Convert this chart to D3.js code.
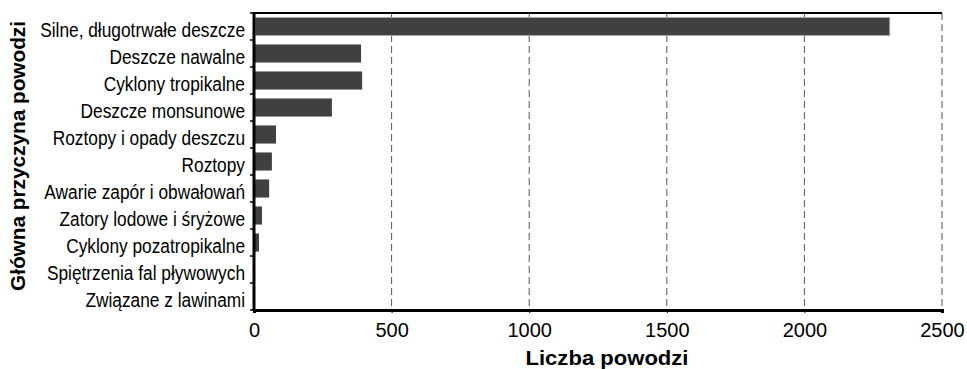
<!DOCTYPE html>
<html><head><meta charset="utf-8">
<script src="https://cdn.jsdelivr.net/npm/d3@7"></script>
<style>body{margin:0;background:#fff}svg{display:block}text{font-family:"Liberation Sans",Arial,sans-serif}</style>
</head><body><svg id="c" width="967" height="369"></svg>
<script>
const categories = ["Silne, długotrwałe deszcze","Deszcze nawalne","Cyklony tropikalne","Deszcze monsunowe","Roztopy i opady deszczu","Roztopy","Awarie zapór i obwałowań","Zatory lodowe i śryżowe","Cyklony pozatropikalne","Spiętrzenia fal pływowych","Związane z lawinami"];
const values = [2310, 389, 393, 283, 80, 65, 55, 29, 18, 2, 1];
const xTicks = [0, 500, 1000, 1500, 2000, 2500];
const xTitle = "Liczba powodzi";
const yTitle = "Główna przyczyna powodzi";

const svg = d3.select("#c");
const m = {l:254, r:942, t:13, b:310};
const x = d3.scaleLinear().domain([0,2500]).range([m.l, m.r]);
const y = d3.scaleBand().domain(categories).range([m.t, m.b]).paddingInner(0.33).paddingOuter(0.165);

// grid
svg.append("g").selectAll("line").data(xTicks.filter(d=>d>0)).join("line")
  .attr("x1",d=>x(d)).attr("x2",d=>x(d)).attr("y1",m.t).attr("y2",m.b)
  .attr("stroke","#555").attr("stroke-width",1).attr("stroke-dasharray","7,4");

// bars
svg.append("g").selectAll("rect").data(values).join("rect")
  .attr("x",x(0)+1).attr("y",(d,i)=>y(categories[i]))
  .attr("width",d=>Math.max(0,x(d)-x(0)-1)).attr("height",y.bandwidth())
  .attr("fill","#404040").attr("stroke",(d,i)=>i===0?"#aaa":"none").attr("stroke-width",1);

// top border
svg.append("line").attr("x1",m.l).attr("x2",m.r).attr("y1",m.t).attr("y2",m.t).attr("stroke","#000").attr("stroke-width",2);

// x axis
const xa = svg.append("g").attr("transform",`translate(0,${m.b})`)
  .call(d3.axisBottom(x).tickValues(xTicks).tickSize(3).tickPadding(10).tickFormat(d3.format("d")));
xa.select(".domain").attr("stroke-width",3);
xa.selectAll("text").attr("font-size",20).attr("fill","#000").attr("font-family","Liberation Sans, Arial, sans-serif");

// y axis
const ya = svg.append("g").attr("transform",`translate(${m.l},0)`)
  .call(d3.axisLeft(y).tickSize(0).tickPadding(9));
ya.select(".domain").remove();
svg.append("line").attr("x1",m.l).attr("x2",m.l).attr("y1",m.t-1).attr("y2",m.b+1).attr("stroke","#000").attr("stroke-width",3);
ya.selectAll("text").attr("font-size",20).attr("fill","#000").attr("dy","0.52em")
  .attr("font-family","Liberation Sans, Arial, sans-serif")
  .each(function(){ const w=this.getComputedTextLength(); d3.select(this).attr("textLength",w*0.865).attr("lengthAdjust","spacingAndGlyphs"); });
// band boundary ticks
const bounds = d3.range(categories.length+1).map(i=>m.t + i*(m.b-m.t)/categories.length);
svg.append("g").selectAll("line").data(bounds).join("line")
  .attr("x1",m.l-4).attr("x2",m.l).attr("y1",d=>d).attr("y2",d=>d).attr("stroke","#000").attr("stroke-width",1.5);

// titles
svg.append("text").attr("x",607).attr("y",365).attr("text-anchor","middle")
  .attr("font-size",20).attr("font-weight","bold").attr("textLength",163).attr("lengthAdjust","spacingAndGlyphs").text(xTitle);
svg.append("text").attr("transform",`translate(25,156) rotate(-90)`).attr("text-anchor","middle")
  .attr("font-size",19.5).attr("font-weight","bold").attr("textLength",270).attr("lengthAdjust","spacingAndGlyphs").text(yTitle);
</script></body></html>
